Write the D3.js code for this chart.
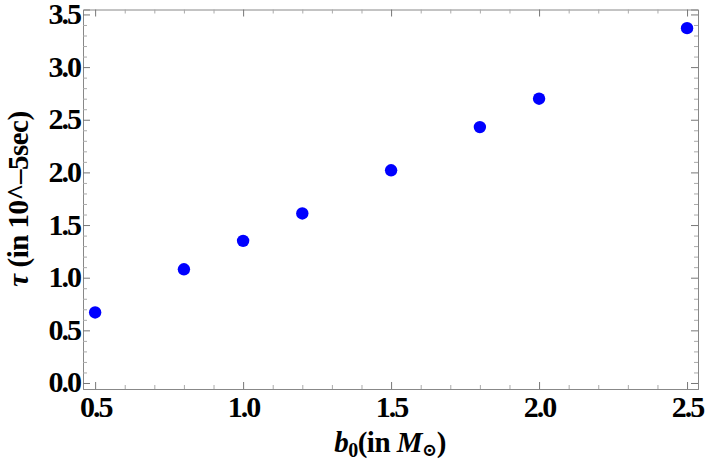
<!DOCTYPE html>
<html>
<head>
<meta charset="utf-8">
<script src="https://cdn.jsdelivr.net/npm/d3@7"></script>
<style>
  body { margin: 0; background: #fff; }
</style>
</head>
<body>
<svg id="chart"></svg>
<script>
const width = 706;
const height = 467;
const serif = '"Liberation Serif", "DejaVu Serif", serif';

// data
const b0 = [0.5, 0.8, 1.0, 1.2, 1.5, 1.8, 2.0, 2.5];
const tau = [0.67, 1.08, 1.35, 1.61, 2.02, 2.43, 2.70, 3.37];
const xTicks = [0.5, 1.0, 1.5, 2.0, 2.5];
const yTicks = [0.0, 0.5, 1.0, 1.5, 2.0, 2.5, 3.0, 3.5];

const margin = { top: 9.5, right: 8, bottom: 78, left: 83 };

const svg = d3.select('#chart')
  .attr('width', width)
  .attr('height', height)
  .attr('font-family', serif)
  .attr('font-weight', 'bold');

const x = d3.scaleLinear()
  .domain([0.459, 2.537])
  .range([margin.left, width - margin.right]);
const y = d3.scaleLinear()
  .domain([-0.057, 3.547])
  .range([height - margin.bottom, margin.top]);

const minorX = d3.range(0.5, 2.51, 0.1).map(d => +d.toFixed(1)).filter(d => !xTicks.includes(d));
const minorY = d3.range(0, 3.51, 0.1).map(d => +d.toFixed(1)).filter(d => !yTicks.includes(d));

const fmt = d3.format('.1f');

// frame axes: bottom and left labelled, top and right mirror ticks
function frame(axisFn, scale, ticks, minor, translate, labels) {
  const g = svg.append('g').attr('transform', translate);
  g.call(axisFn(scale).tickValues(ticks).tickSize(-7).tickPadding(10)
    .tickFormat(labels ? fmt : ''));
  g.attr('font-family', serif).attr('font-weight', 'bold').attr('font-size', 30);
  g.select('.domain').attr('stroke', '#888').attr('stroke-width', 1);
  g.selectAll('.tick line').attr('stroke', '#777');
  g.selectAll('.tick text')
    .attr('fill', '#000')
    .attr('letter-spacing', -2);
  const m = svg.append('g').attr('transform', translate);
  m.call(axisFn(scale).tickValues(minor).tickSize(-4).tickFormat(''));
  m.select('.domain').remove();
  m.selectAll('.tick line').attr('stroke', '#aaa');
  return g;
}

const bottom = height - margin.bottom;
const right = width - margin.right;

frame(d3.axisBottom, x, xTicks, minorX, `translate(0,${bottom})`, true)
  .selectAll('.tick text').attr('dy', null).attr('y', 28);
frame(d3.axisTop, x, xTicks, minorX, `translate(0,${margin.top})`, false);
frame(d3.axisLeft, y, yTicks, minorY, `translate(${margin.left},0)`, true)
  .selectAll('.tick text').attr('x', -3).attr('dy', null).attr('y', 9);
frame(d3.axisRight, y, yTicks, minorY, `translate(${right},0)`, false);

// points
svg.selectAll('.dot')
  .data(b0.map((d, i) => ({ b: d, t: tau[i] })))
  .join('circle')
  .attr('class', 'dot')
  .attr('cx', d => x(d.b))
  .attr('cy', d => y(d.t))
  .attr('r', 6.2)
  .attr('fill', '#0000ff');

// x axis title
const xt = svg.append('text')
  .attr('x', 390)
  .attr('y', 452)
  .attr('text-anchor', 'middle')
  .attr('font-size', 29)
  .attr('letter-spacing', -0.5)
  .attr('fill', '#000');
xt.append('tspan').attr('font-style', 'italic').text('b');
xt.append('tspan').attr('font-size', 20).attr('dy', 5).text('0');
xt.append('tspan').attr('dy', -5).text('(in ');
xt.append('tspan').attr('font-style', 'italic').text('M');
xt.append('tspan').attr('font-size', 18).attr('dy', 4).text('⊙');
xt.append('tspan').attr('dy', -4).text(')');

// y axis title
const yt = svg.append('text')
  .attr('transform', `translate(28,199) rotate(-90)`)
  .attr('text-anchor', 'middle')
  .attr('font-size', 29)
  .attr('letter-spacing', -0.5)
  .attr('fill', '#000');
yt.append('tspan').attr('font-style', 'italic').text('τ');
yt.append('tspan').text(' (in 10^–5sec)');
</script>
</body>
</html>
